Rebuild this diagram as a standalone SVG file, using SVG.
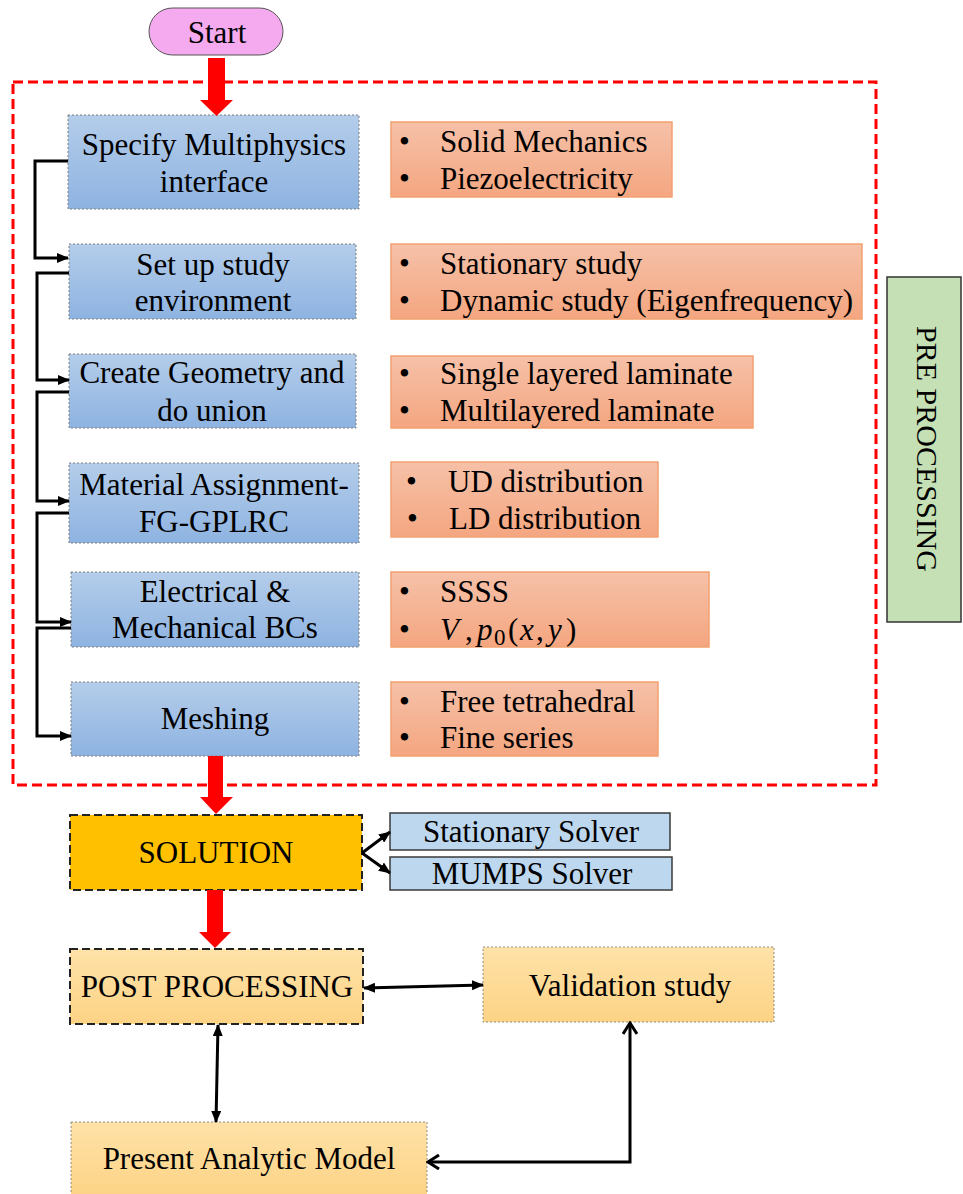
<svg xmlns="http://www.w3.org/2000/svg" width="963" height="1194" viewBox="0 0 963 1194">
<defs>
<linearGradient id="gBlue" x1="0" y1="0" x2="0" y2="1"><stop offset="0" stop-color="#b4cdea"/><stop offset="1" stop-color="#8eb3e1"/></linearGradient>
<linearGradient id="gOrange" x1="0" y1="0" x2="0" y2="1"><stop offset="0" stop-color="#f6c1a8"/><stop offset="1" stop-color="#f4a680"/></linearGradient>
<linearGradient id="gPale" x1="0" y1="0" x2="0" y2="1"><stop offset="0" stop-color="#fee2a8"/><stop offset="1" stop-color="#fdd385"/></linearGradient>
<marker id="tri" markerUnits="userSpaceOnUse" markerWidth="12" markerHeight="10" refX="11" refY="5" orient="auto-start-reverse"><path d="M0,0 L12,5 L0,10 z" fill="#000"/></marker>
<marker id="chev" markerUnits="userSpaceOnUse" markerWidth="14" markerHeight="16" refX="12" refY="8" orient="auto-start-reverse"><path d="M1,1 L12,8 L1,15" fill="none" stroke="#000" stroke-width="3"/></marker>
</defs>
<style>
text{font-family:"Liberation Serif","Times New Roman",serif;font-size:31px;fill:#000}
.c{text-anchor:middle}
.i{font-style:italic}
.blue{fill:url(#gBlue);stroke:#7f7f7f;stroke-width:1;stroke-dasharray:2 2}
.orange{fill:url(#gOrange);stroke:#f4a070;stroke-width:1.5}
.pale{fill:url(#gPale);stroke:#8c8c8c;stroke-width:1;stroke-dasharray:2 2}
.dark{stroke:#222;stroke-width:2;stroke-dasharray:8 4}
.solver{fill:#bdd7ee;stroke:#3a3a3a;stroke-width:1.5}
.conn{fill:none;stroke:#000;stroke-width:3}
.red{fill:#ff0000}
</style>
<rect x="13" y="82" width="863" height="703" fill="none" stroke="#ff0000" stroke-width="3" stroke-dasharray="10 5"/>
<g id="start"><rect x="149" y="8" width="134" height="47" rx="23.5" fill="#f5aaf0" stroke="#555" stroke-width="1"/><text x="217" y="43" class="c">Start</text></g>
<g id="n1"><rect class="blue" x="68" y="115" width="291" height="94"/><text x="214" y="155" class="c">Specify Multiphysics</text><text x="214" y="192" class="c">interface</text></g>
<g id="n2"><rect class="blue" x="69" y="244" width="287" height="75"/><text x="213" y="275" class="c">Set up study</text><text x="213" y="311" class="c">environment</text></g>
<g id="n3"><rect class="blue" x="69" y="354" width="287" height="74"/><text x="212" y="383" class="c">Create Geometry and</text><text x="212" y="421" class="c">do union</text></g>
<g id="n4"><rect class="blue" x="69" y="463" width="290" height="80"/><text x="214" y="495" class="c">Material Assignment-</text><text x="214" y="532" class="c">FG-GPLRC</text></g>
<g id="n5"><rect class="blue" x="71" y="572" width="288" height="75"/><text x="215" y="602" class="c">Electrical &amp;</text><text x="215" y="638" class="c">Mechanical BCs</text></g>
<g id="n6"><rect class="blue" x="71" y="682" width="288" height="74"/><text x="215" y="729" class="c">Meshing</text></g>
<g id="o1"><rect class="orange" x="391" y="122" width="281" height="75"/><text x="399" y="152">•</text><text x="440" y="152">Solid Mechanics</text><text x="399" y="189">•</text><text x="440" y="189">Piezoelectricity</text></g>
<g id="o2"><rect class="orange" x="391" y="244" width="471" height="75"/><text x="399" y="274">•</text><text x="440" y="274">Stationary study</text><text x="399" y="311">•</text><text x="440" y="311">Dynamic study (Eigenfrequency)</text></g>
<g id="o3"><rect class="orange" x="391" y="356" width="362" height="72"/><text x="399" y="384">•</text><text x="440" y="384">Single layered laminate</text><text x="399" y="421">•</text><text x="440" y="421">Multilayered laminate</text></g>
<g id="o4"><rect class="orange" x="391" y="462" width="267" height="75"/><text x="406" y="492">•</text><text x="448" y="492">UD distribution</text><text x="407" y="529">•</text><text x="449" y="529">LD distribution</text></g>
<g id="o5"><rect class="orange" x="391" y="572" width="318" height="75"/><text x="399" y="602">•</text><text x="440" y="602">SSSS</text><text x="399" y="640">•</text><text y="640"><tspan class="i" x="440">V</tspan><tspan x="465">,</tspan><tspan class="i" x="477">p</tspan><tspan x="494" dy="5" font-size="23">0</tspan><tspan x="508" dy="-5">(</tspan><tspan class="i" x="520">x</tspan><tspan x="536">,</tspan><tspan class="i" x="548">y</tspan><tspan x="566">)</tspan></text></g>
<g id="o6"><rect class="orange" x="391" y="682" width="267" height="74"/><text x="399" y="712">•</text><text x="440" y="712">Free tetrahedral</text><text x="399" y="748">•</text><text x="440" y="748">Fine series</text></g>
<g id="pre"><rect x="887" y="277" width="74" height="345" fill="#c5e0b4" stroke="#333" stroke-width="1.5"/><text class="c" style="font-size:30px" transform="translate(917,449) rotate(90)">PRE PROCESSING</text></g>
<g id="solution"><rect class="dark" x="70" y="815" width="292" height="75" fill="#ffc000"/><text x="216" y="863" class="c">SOLUTION</text></g>
<g id="stat"><rect class="solver" x="390" y="813" width="280" height="37"/><text x="531" y="842" class="c">Stationary Solver</text></g>
<g id="mumps"><rect class="solver" x="390" y="857" width="282" height="33"/><text x="532" y="884" class="c">MUMPS Solver</text></g>
<g id="post"><rect class="dark" x="70" y="949" width="293" height="75" fill="url(#gPale)"/><text x="217" y="997" class="c">POST PROCESSING</text></g>
<g id="valid"><rect class="pale" x="483" y="947" width="291" height="75"/><text x="630" y="996" class="c">Validation study</text></g>
<g id="present"><rect class="pale" x="71" y="1122" width="356" height="75"/><text x="249" y="1169" class="c">Present Analytic Model</text></g>
<g id="connectors">
<path class="red" d="M208,58 H225 V100 H233 L216.5,116 L200,100 H208 Z"/>
<path class="red" d="M208,756 H223 V797 H233 L216,814 L200,797 H208 Z"/>
<path class="red" d="M207,890 H223 V932 H231 L215,948 L199,932 H207 Z"/>
<path class="conn" d="M68,161 H35 V258 H68" marker-end="url(#tri)"/>
<path class="conn" d="M69,273 H37 V380 H69" marker-end="url(#tri)"/>
<path class="conn" d="M69,392 H37 V501 H69" marker-end="url(#tri)"/>
<path class="conn" d="M69,513 H37 V622 H71" marker-end="url(#tri)"/>
<path class="conn" d="M71,628 H37 V736 H71" marker-end="url(#tri)"/>
<path class="conn" d="M362,853 L390,832" marker-end="url(#tri)"/>
<path class="conn" d="M362,853 L390,873" marker-end="url(#tri)"/>
<path class="conn" d="M364,988 L483,985" marker-start="url(#tri)" marker-end="url(#tri)"/>
<path class="conn" d="M218,1025 L216,1122" marker-start="url(#tri)" marker-end="url(#tri)"/>
<path class="conn" d="M630,1023 V1162 H428" marker-start="url(#chev)" marker-end="url(#chev)"/>
</g>
</svg>
